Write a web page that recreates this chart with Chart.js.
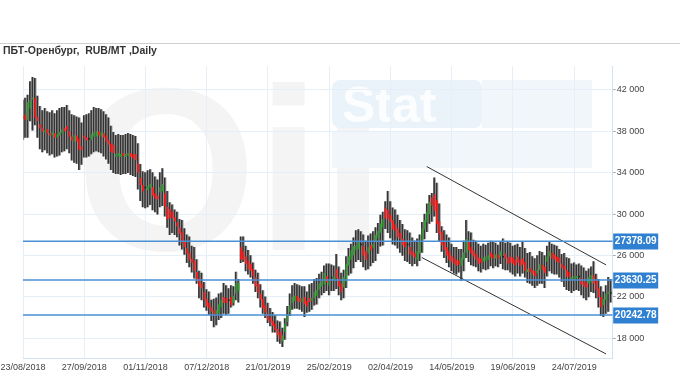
<!DOCTYPE html>
<html>
<head>
<meta charset="utf-8">
<script src="https://cdn.jsdelivr.net/npm/chart.js@4.4.1/dist/chart.umd.min.js"></script>
<style>
  html, body { margin: 0; padding: 0; background: #fff; }
  #wrap { width: 680px; height: 380px; position: relative; }
</style>
</head>
<body>
<div id="wrap"><canvas id="chart"></canvas></div>
<script>
const title = 'ПБТ-Оренбург,  RUB/MT ,Daily';
const dateLabels = ['23/08/2018', '27/09/2018', '01/11/2018', '07/12/2018', '21/01/2019',
  '25/02/2019', '02/04/2019', '14/05/2019', '19/06/2019', '24/07/2019'];
const yTicks = [18000, 22000, 26000, 30000, 34000, 38000, 42000];

const opens = [
  39300,39600,39100,40200,41100,41200,39400,38700,38300,37900,
  38200,37800,37600,37800,37400,37600,37800,38300,38500,38000,
  37500,37000,37600,37300,36500,37600,37400,37200,37200,37500,
  37500,38000,37500,37800,37600,37100,36800,36700,35500,35600,
  35500,35900,35500,35600,35900,35800,35800,34900,33500,32800,
  32500,32300,32500,32600,32000,31800,32100,32200,32000,30700,
  30500,30200,29700,29200,28700,28300,27400,26700,26300,25700,
  25500,24400,23800,23300,22500,21800,21400,21000,20700,20300,
  20400,21000,22000,21900,21600,22000,21400,22300,22600,26800,
  26400,25900,25500,25200,24700,23900,23300,22300,21800,21200,
  20400,20000,19700,19400,18900,18600,17700,18600,19600,20500,
  21400,21600,22100,21900,21500,22000,21600,21900,21600,21900,
  22100,22700,23000,23200,24000,23100,23800,23600,24700,23800,
  23300,22900,23500,25000,25600,26000,26500,26600,27000,26900,
  26400,26200,27000,26700,27300,27700,28200,28700,30600,30400,
  29900,29400,29000,28600,28200,27600,27400,27000,26800,26400,
  26200,25600,26200,27500,28500,29200,30000,31600,31900,31300,
  29300,28300,27300,26800,26400,26000,25800,25600,25500,25000,
  25600,26300,27400,26800,26500,26200,25800,25700,25400,25500,
  25600,26300,26100,25700,26100,25900,25800,26200,25800,25900,
  25800,25600,25900,25600,25700,25400,24400,24800,24600,24500,
  24300,24600,25100,24900,25400,25900,26300,26100,25900,25800,
  25200,25000,24600,24400,23700,23700,23800,23900,23800,23500,
  23400,23300,23400,24100,23600,22800,22000,21200,21700,22300,
  22300
];
const highs = [
  41000,41200,41500,42800,43200,43100,41400,40400,40000,40200,
  39900,39800,40000,39700,40000,40200,40300,40300,40500,40000,
  39600,39500,39400,39300,38800,39500,39600,39700,40000,40300,
  40200,40200,40100,39900,39600,39300,38500,37900,37600,37700,
  37600,37600,37700,37800,37700,37600,37500,36800,34800,34100,
  34000,34200,34300,34000,33600,33300,34000,34400,33500,32200,
  31100,30900,30400,30200,29500,29400,28600,28000,27800,26900,
  26800,25600,24500,24300,23400,22700,22500,21700,21800,21900,
  22300,22400,23300,23100,22800,23100,23000,24400,23700,27800,
  27800,26900,26500,26000,25300,24600,24300,23200,22600,22000,
  21400,20900,20500,20200,19700,19600,19000,19900,21100,22300,
  23100,23300,23200,23100,23000,23000,22500,23200,23300,23700,
  23800,24200,24400,25000,25200,25200,25100,25000,26100,24900,
  24300,24600,25900,26700,27100,27700,28400,28500,28300,28000,
  27400,27900,28100,28300,28700,29100,29900,30200,31200,32200,
  31200,30600,30400,29900,29400,29000,28500,28400,28200,27700,
  27400,27600,28000,29200,30000,31000,31800,32000,33500,33000,
  31000,28800,28400,28000,27700,27100,26800,26800,26600,26600,
  27400,29400,28300,28200,27500,27400,27100,26900,27100,27000,
  27200,27400,27300,27200,27000,27300,27600,27200,27300,27200,
  26900,27000,27100,26800,27300,26700,26200,26300,25900,25700,
  26000,26400,26300,26000,26900,27300,27100,27000,26900,26600,
  26100,26200,25800,25700,25200,25300,25100,25200,25000,24800,
  24500,24700,24900,25400,24200,23700,23000,22500,23100,23900,
  23700
];
const lows = [
  37200,37400,37400,39000,38100,38600,37400,36300,36000,36200,
  35900,35700,35800,35500,35600,35700,36000,36100,36300,35900,
  35200,35000,34900,34300,34800,35500,35500,35600,35800,36000,
  36100,36000,35900,35600,35300,34900,34300,34000,33900,33900,
  33800,33900,33900,34000,33800,33700,33600,32400,31300,30700,
  30600,30700,30900,30400,30200,30000,30700,30800,29800,28700,
  28000,28200,28000,27800,27000,26600,26100,25300,24900,24400,
  23800,23300,21900,21700,21000,20700,20300,19700,19100,19300,
  19800,20000,20400,20300,20400,21000,21200,21700,21500,25300,
  25400,24500,24200,23900,23300,22500,21900,21000,20400,20000,
  19500,19200,18600,18600,17700,17500,17200,17900,19200,20200,
  20800,20900,20900,20800,20600,20100,20500,20600,20800,21200,
  21300,21900,22200,22400,22600,22200,22600,22600,22800,22200,
  21700,21900,22900,24100,24300,24800,25400,25600,25400,24900,
  24600,24700,25000,25300,25500,26200,26900,27000,28600,28200,
  27700,27100,27000,26700,26300,26000,25500,25400,25200,25000,
  25200,25000,25500,26300,27600,28300,29100,29300,29800,28200,
  27400,26400,25800,25300,24900,24500,24300,24200,24400,23600,
  24500,25800,25400,25100,25000,24900,24500,24400,24700,24600,
  24700,25000,24800,25000,24900,25200,24700,24600,24600,24400,
  24200,24000,24300,24000,24300,23900,23400,23300,23100,22900,
  23100,23300,23300,22900,24000,24500,24300,24200,24200,23900,
  23500,23000,22700,22600,22400,22600,22700,22600,22200,21900,
  21700,22000,22500,22400,21900,21000,20200,20100,20400,20600,
  21500
];
const closes = [
  39250,39100,40800,41000,41150,39300,39000,38300,38000,38100,
  37800,37600,37900,37400,37700,37900,38200,38000,38100,37500,
  37100,37600,37000,36200,36200,37300,37100,37200,37700,37900,
  38000,37600,37900,37400,37000,36700,36000,35900,35800,35900,
  35800,35600,35800,35900,35500,35400,35200,34000,32800,32200,
  32500,32700,32900,31800,31500,31400,32600,32900,30700,29500,
  29600,29600,29300,28800,28100,27200,26800,26200,25600,25300,
  24500,23700,23000,22800,21700,21100,20900,20600,20300,20700,
  21300,21700,21400,21400,21600,21200,22100,23300,23400,25600,
  25600,25200,24700,24500,24000,23000,22400,21700,20900,20500,
  19800,19500,19200,18800,18300,17900,18300,19400,20300,21200,
  22000,22100,21600,21500,21900,21300,21100,21500,21900,22500,
  22700,23300,23500,24300,23400,23600,23800,24000,23800,23000,
  22500,23900,25200,25900,26500,26900,27000,27300,27000,26000,
  25600,26800,26500,27100,28000,28400,29100,29500,29600,29500,
  29200,28500,28400,27800,27600,27000,26800,27000,26100,26000,
  25800,26400,27400,28600,29400,30200,31200,30800,30300,29000,
  28100,27000,26500,26000,25600,25400,25200,25000,25100,25800,
  26300,27600,26500,26200,25900,25600,25200,25300,25800,25900,
  26000,25800,25700,26100,25700,26400,25800,25700,25200,25300,
  25200,25000,25300,25000,25100,24500,24700,24400,24200,24000,
  24600,25200,24600,24300,25900,26400,25700,25600,25400,25300,
  24800,24600,24000,23900,23900,24000,24000,23900,23200,23000,
  22900,23900,24100,23300,22700,22000,21000,21800,22300,22500,
  22300
];

// horizontal levels and the two channel lines: [barIndex, price]
const levels = [27378.09, 23630.25, 20242.78];
const channelUpper = [[164.8, 34590], [238, 25090]];
const channelLower = [[162.8, 25800], [238, 16490]];

const X_MAX = 240.7;
const UP = '#2e9a2e', DOWN = '#ff1a1a', FLAT = '#222';
const LEVEL_COLOR = '#4a8fd6', LEVEL_BOX = '#2f80d1';
const GRID = '#e6eef7', AXIS = '#d3e2f1';

const fmt = v => String(v).replace(/\B(?=(\d{3})+(?!\d))/g, ' ');

const wick = opens.map((_, i) => ({ x: i, y: [lows[i], highs[i]] }));
const body = opens.map((o, i) => ({ x: i, y: [Math.min(o, closes[i]), Math.max(o, closes[i])] }));
const bodyColors = opens.map((o, i) => closes[i] > o ? UP : closes[i] < o ? DOWN : FLAT);

const levelSets = levels.map(l => ({
  type: 'line', order: 0,
  data: [{ x: 0, y: l }, { x: X_MAX, y: l }],
  borderColor: LEVEL_COLOR, borderWidth: 1.5, pointRadius: 0,
}));
const channelSets = [channelUpper, channelLower].map(pts => ({
  type: 'line', order: 0,
  data: pts.map(p => ({ x: p[0], y: p[1] })),
  borderColor: '#333', borderWidth: 1, pointRadius: 0,
}));

const decor = {
  id: 'decor',
  beforeDraw(chart) {
    const ctx = chart.ctx;
    ctx.save();
    // faint watermark
    ctx.fillStyle = '#f4f4f4';
    ctx.font = 'bold 232px "Liberation Sans"';
    ctx.textBaseline = 'alphabetic';
    ctx.fillText('Oil', 76, 250);
    ctx.fillStyle = '#eaf2fa';
    ctx.beginPath();
    ctx.roundRect(332, 80, 150, 48, 8);
    ctx.fill();
    ctx.fillStyle = '#f1f6fb';
    ctx.fillRect(482, 80, 110, 48);
    ctx.fillRect(332, 132, 260, 36);
    ctx.fillStyle = '#fbfdff';
    ctx.font = 'bold 50px "Liberation Sans"';
    ctx.fillText('Stat', 342, 122);
    // header line and title
    ctx.strokeStyle = '#cfcfcf';
    ctx.lineWidth = 1;
    ctx.beginPath();
    ctx.moveTo(0, 43.5);
    ctx.lineTo(680, 43.5);
    ctx.stroke();
    ctx.fillStyle = '#333';
    ctx.font = 'bold 10.5px "Liberation Sans"';
    ctx.textBaseline = 'middle';
    ctx.fillText(title, 3, 51.5);
    ctx.restore();
  },
  afterDraw(chart) {
    const ctx = chart.ctx;
    const y = chart.scales.y;
    const left = chart.chartArea.right;
    ctx.save();
    ctx.font = 'bold 10px "Liberation Sans"';
    ctx.textBaseline = 'middle';
    ctx.textAlign = 'center';
    levels.forEach(l => {
      const py = y.getPixelForValue(l);
      ctx.fillStyle = LEVEL_BOX;
      ctx.fillRect(left + 0.5, Math.round(py) - 7.5, 45, 16);
      ctx.fillStyle = '#fff';
      ctx.fillText(l.toFixed(2), left + 23, py + 0.5);
    });
    ctx.restore();
  }
};

new Chart(document.getElementById('chart'), {
  type: 'bar',
  data: {
    datasets: [
      ...levelSets,
      ...channelSets,
      { label: 'body', order: 1, data: body, grouped: false, maxBarThickness: 2, minBarLength: 1.5,
        backgroundColor: bodyColors, borderWidth: 0 },
      { label: 'wickDark', order: 2, data: wick, barThickness: 1, backgroundColor: '#333', borderWidth: 0 },
      { label: 'wickGrey', order: 2, data: wick, barThickness: 1, backgroundColor: '#ababab', borderWidth: 0 },
    ]
  },
  options: {
    animation: false,
    responsive: true,
    maintainAspectRatio: false,
    devicePixelRatio: 1,
    layout: { padding: { left: 23, top: 66, right: 0, bottom: 0 } },
    plugins: { legend: { display: false }, tooltip: { enabled: false } },
    scales: {
      x: {
        type: 'linear', min: 0, max: X_MAX, offset: false,
        afterBuildTicks: s => { s.ticks = dateLabels.map((_, k) => ({ value: k * 25 })); },
        afterFit: s => { s.height = 22; s.paddingLeft = 0; s.paddingRight = 0; },
        grid: { color: GRID, drawTicks: false, offset: false },
        border: { color: AXIS },
        ticks: {
          padding: 4, maxRotation: 0, autoSkip: false, color: '#444',
          font: { family: 'Liberation Sans', size: 9 },
          callback: v => dateLabels[Math.round(v / 25)] || ''
        }
      },
      y: {
        position: 'right', min: 16100, max: 44300,
        afterBuildTicks: s => { s.ticks = yTicks.map(v => ({ value: v })); },
        afterFit: s => { s.width = 67.3; },
        grid: { color: GRID, tickColor: '#aaa', tickLength: 3 },
        border: { color: AXIS },
        ticks: {
          padding: 1, color: '#444',
          font: { family: 'Liberation Sans', size: 9 },
          callback: v => fmt(v)
        }
      }
    }
  },
  plugins: [decor]
});
</script>
</body>
</html>
